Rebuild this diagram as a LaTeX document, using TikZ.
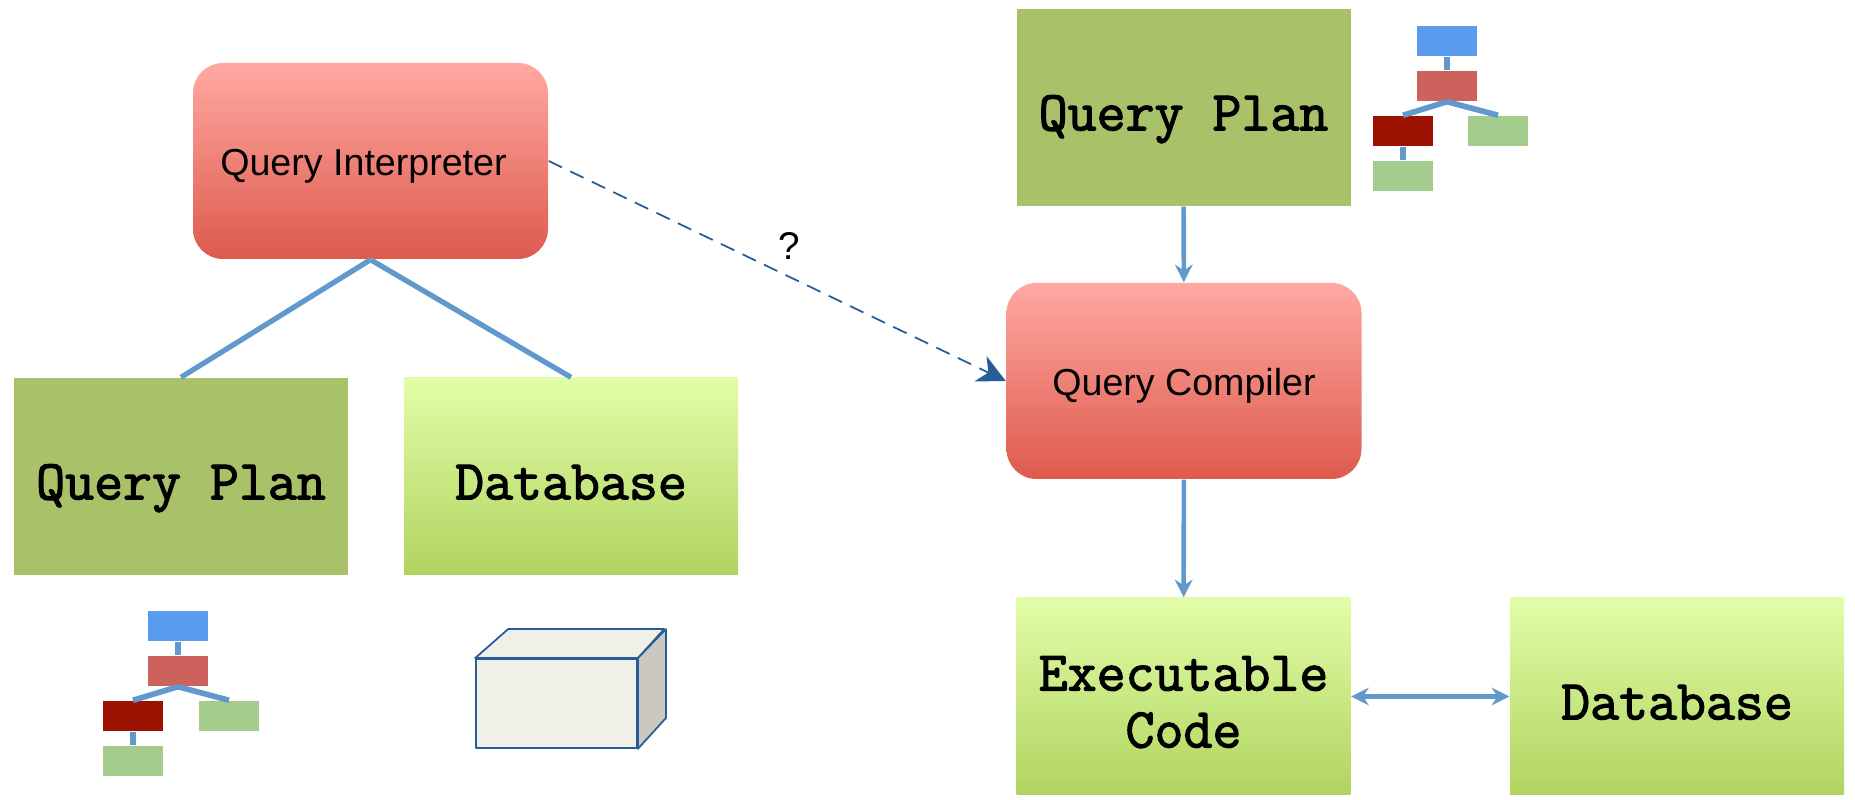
\documentclass[tikz,border=0pt]{standalone}
\usepackage{fontspec}
\setmainfont{Liberation Sans}
\newfontfamily\planfont[FakeBold=2.2]{Latin Modern Mono}
\usetikzlibrary{arrows.meta}
\definecolor{linkblue}{HTML}{6299CC}
\definecolor{dashblue}{HTML}{255E96}
\definecolor{planolive}{HTML}{A9C26A}
\definecolor{limetop}{HTML}{E2FDA8}
\definecolor{limebot}{HTML}{B0D45F}
\definecolor{redtop}{HTML}{FFA9A2}
\definecolor{redbot}{HTML}{DE5A4D}
\definecolor{leafblue}{HTML}{5B9BEE}
\definecolor{leafred}{HTML}{CD615B}
\definecolor{leafdark}{HTML}{9C1200}
\definecolor{leafgreen}{HTML}{A4CD8D}
\definecolor{cubefront}{HTML}{F0F0E8}
\definecolor{cubeside}{HTML}{CCC8C0}
\tikzset{
    box/.style={rectangle, inner sep=0pt, minimum width=3.34cm, minimum height=1.97cm, align=center, text height=13pt, text depth=0pt, font=\planfont\fontsize{16}{16.2}\selectfont},
    planbox/.style={box, fill=planolive},
    limebox/.style={box, top color=limetop, bottom color=limebot},
    engine/.style={rectangle, rounded corners=0.3cm, inner sep=0pt, minimum width=3.55cm, minimum height=1.96cm, top color=redtop, bottom color=redbot, text height=10.8pt, text depth=2.4pt, font=\fontsize{10.7}{12}\selectfont},
    leaf/.style={rectangle, inner sep=0pt, minimum width=0.6cm, minimum height=0.3cm},
    link/.style={draw=linkblue, line width=1.5pt},
    twig/.style={draw=linkblue, line width=1.6pt},
    flow/.style={draw=linkblue, line width=1.3pt, -{Stealth[length=5pt, width=5pt]}},
    cubeedge/.style={draw=dashblue, line width=0.5pt, line join=round}
}
\begin{document}
\begin{tikzpicture}
        \useasboundingbox (0,0) rectangle (18.55,8);

        \node[engine] (QI) at (3.705,6.39) {Query Interpreter\hspace*{0.14cm}\null};
        \node[planbox] (PL) at (1.81,3.235) {Query Plan};
        \node[limebox] (DL) at (5.71,3.235) {Database};
        \node[planbox] (PR) at (11.835,6.925) {Query Plan};
        \node[engine] (QC) at (11.84,4.19) {Query Compiler};
        \node[limebox, text height=29pt] (EC) at (11.835,1.035) {Executable\\Code};
        \node[limebox] (DR) at (16.77,1.035) {Database};

        \draw[link] (QI.south) -- (PL.north);
        \draw[link] (QI.south) -- (DL.north);
        \draw[flow] (PR) -- (QC);
        \draw[flow] (QC) -- (EC);
        \draw[flow, {Stealth[length=5pt, width=5pt]}-{Stealth[length=5pt, width=5pt]}] (EC) -- (DR);
        \draw[dashblue, line width=0.5pt, dash pattern=on 4.2pt off 2.6pt, -{Stealth[length=8pt, width=8pt, inset=2.5pt]}] (QI.east) -- node[pos=0.52, above right, black, font=\fontsize{11}{12}\selectfont, xshift=-5.7pt, yshift=1pt] (Q) {?} (QC.west);

        % tree under the left plan
        \node[leaf, fill=leafblue] (A1) at (1.78,1.74) {};
        \node[leaf, fill=leafred] (B1) at (1.78,1.29) {};
        \node[leaf, fill=leafdark] (C1) at (1.33,0.84) {};
        \node[leaf, fill=leafgreen] (D1) at (2.29,0.84) {};
        \node[leaf, fill=leafgreen] (E1) at (1.33,0.39) {};
        \draw[twig] (A1) -- (B1);
        \draw[twig] (B1.south) -- (C1.north);
        \draw[twig] (B1.south) -- (D1.north);
        \draw[twig] (C1) -- (E1);

        % tree beside the right plan
        \node[leaf, fill=leafblue] (A2) at (14.47,7.59) {};
        \node[leaf, fill=leafred] (B2) at (14.47,7.14) {};
        \node[leaf, fill=leafdark] (C2) at (14.03,6.69) {};
        \node[leaf, fill=leafgreen] (D2) at (14.98,6.69) {};
        \node[leaf, fill=leafgreen] (E2) at (14.03,6.24) {};
        \draw[twig] (A2) -- (B2);
        \draw[twig] (B2.south) -- (C2.north);
        \draw[twig] (B2.south) -- (D2.north);
        \draw[twig] (C2) -- (E2);

        % the database cube
        \node[rectangle, inner sep=0pt, minimum width=1.61cm, minimum height=0.89cm, fill=cubefront, cubeedge] (CU) at (5.565,0.965) {};
        \draw[cubeedge, fill=cubefront] (CU.north west) -- ++(0.33,0.29) -- ++(1.56,0) -- (CU.north east) -- cycle;
        \draw[cubeedge, fill=cubeside] (CU.north east) -- ++(0.28,0.29) -- ++(0,-0.89) -- (CU.south east) -- cycle;
    \end{tikzpicture}
\end{document}
